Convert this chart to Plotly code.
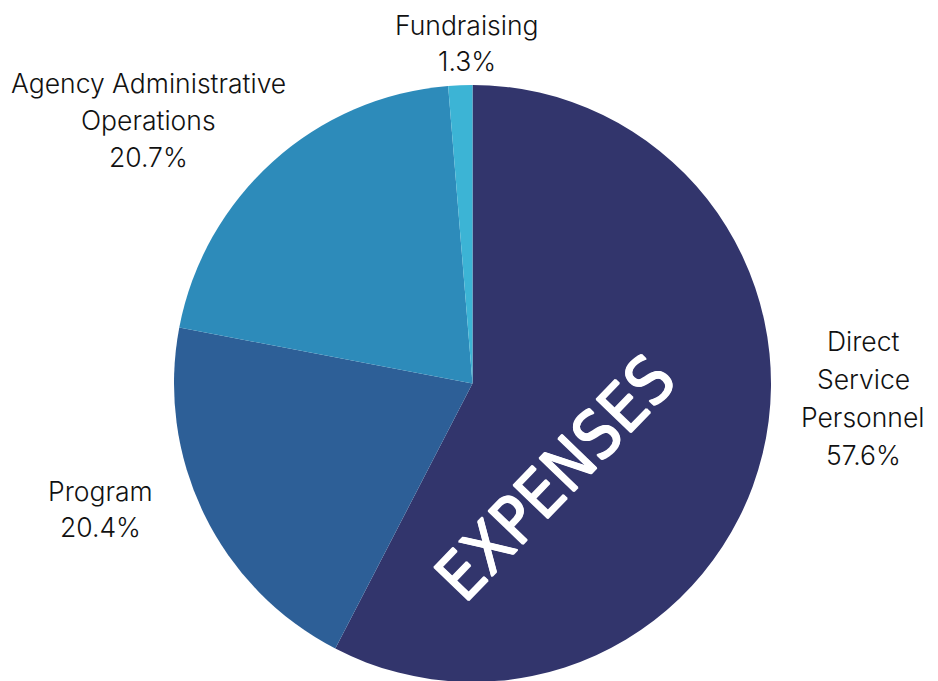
import plotly.graph_objects as go

categories = ["Direct Service Personnel", "Program", "Agency Administrative Operations", "Fundraising"]
values = [57.6, 20.4, 20.7, 1.3]
colors = ["#32356c", "#2d5f97", "#2d8bba", "#3cb4d5"]
label_lines = [
    ["Direct", "Service", "Personnel"],
    ["Program"],
    ["Agency Administrative", "Operations"],
    ["Fundraising"],
]
center_title = "EXPENSES"

W, H = 938, 681
OFF = 8  # page body margin offset

cx, cy, r = 472.5 - OFF, 383.5 - OFF, 298.5

fig = go.Figure(go.Pie(
    labels=categories,
    values=values,
    marker=dict(colors=colors, line=dict(width=0)),
    sort=False,
    direction="clockwise",
    rotation=0,
    textinfo="none",
    hoverinfo="label+percent",
    domain=dict(x=[(cx - r) / W, (cx + r) / W], y=[1 - (cy + r) / H, 1 - (cy - r) / H]),
    showlegend=False,
))

label_pos = [(863, 341), (100, 491), (148, 83), (467, 25)]
line_gap = [38, 36, 37, 36]

annotations = []
font_lab = dict(family="Inter, Lato, sans-serif", size=26.5, color="#111111", weight=300)
for lines, val, (px, py), gap in zip(label_lines, values, label_pos, line_gap):
    all_lines = lines + [f"{val:.1f}%"]
    for i, t in enumerate(all_lines):
        annotations.append(dict(
            text=t, x=(px - OFF) / W, y=1 - (py - OFF + i * gap) / H,
            xref="paper", yref="paper", xanchor="center", yanchor="middle",
            showarrow=False, font=font_lab,
        ))

annotations.append(dict(
    text=center_title, x=(555 - OFF) / W, y=1 - (478 - OFF) / H,
    xref="paper", yref="paper", xanchor="center", yanchor="middle",
    showarrow=False, textangle=-46,
    font=dict(family="Liberation Sans Narrow, DejaVu Sans Condensed, sans-serif", size=66,
              color="white",
              shadow="0.8px 0 0 white, -0.8px 0 0 white, 0 0.8px 0 white, 0 -0.8px 0 white"),
))

fig.update_layout(
    width=W, height=H,
    margin=dict(l=0, r=0, t=0, b=0),
    paper_bgcolor="white", plot_bgcolor="white",
    annotations=annotations,
)

fig.write_html("out.html")
